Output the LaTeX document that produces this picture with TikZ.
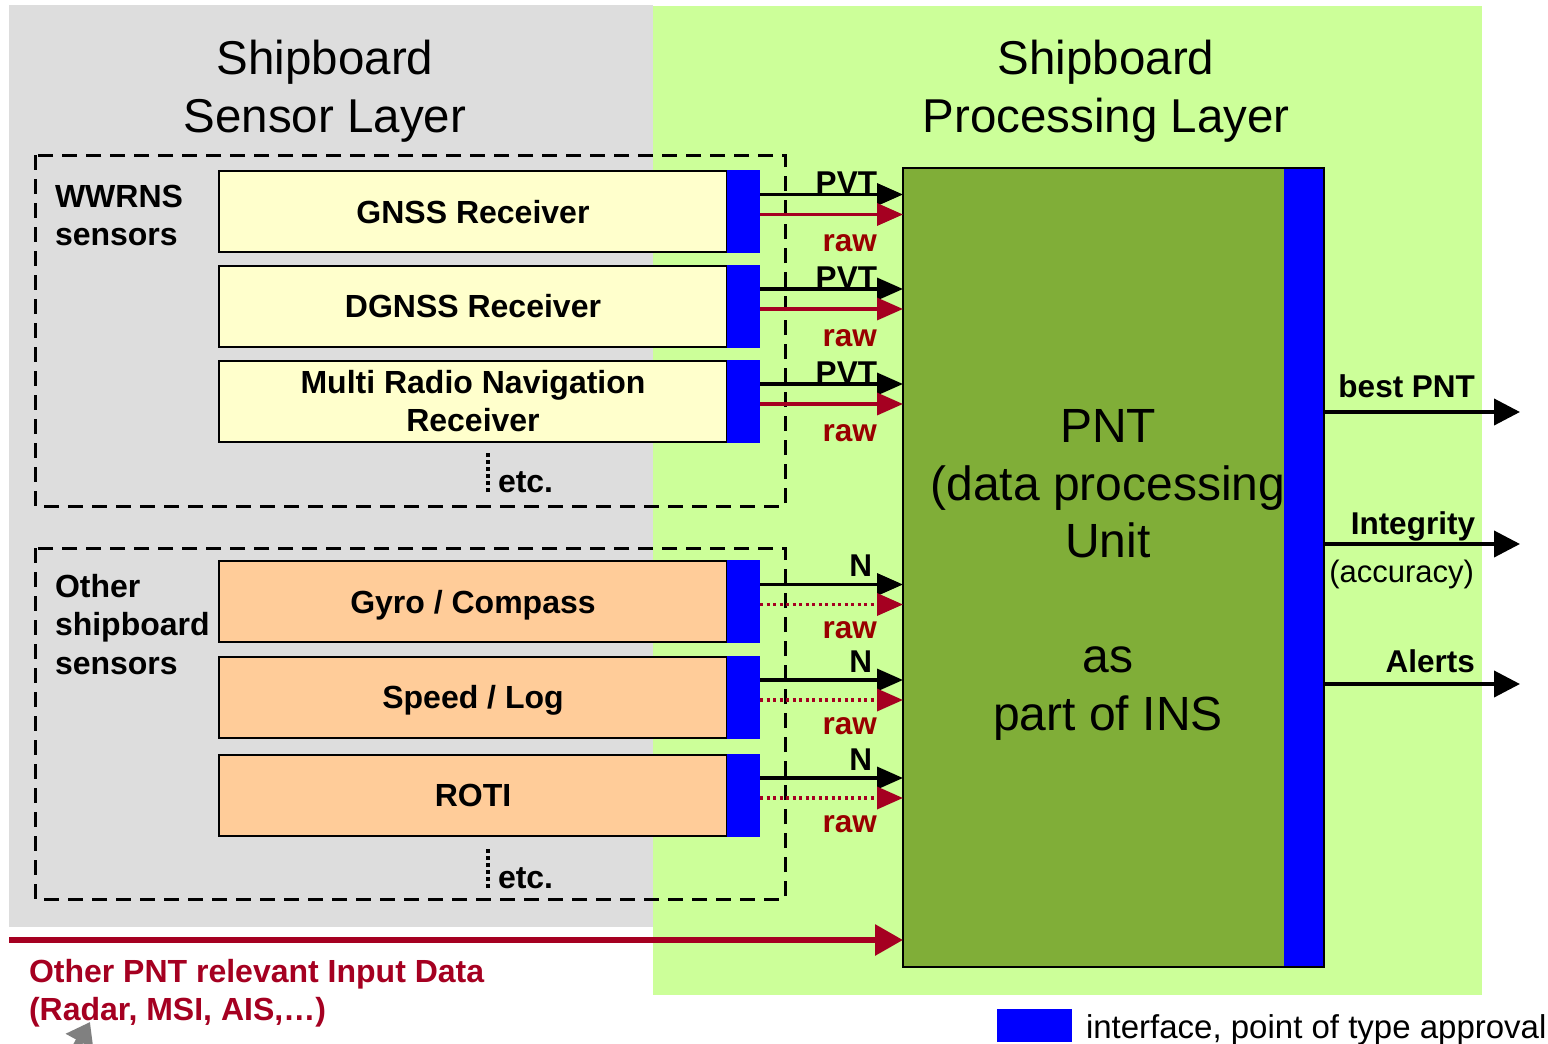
\documentclass[tikz,border=0pt]{standalone}
\usepackage{fontspec}
\setmainfont{Liberation Sans}
\usetikzlibrary{arrows.meta,positioning}
\definecolor{sensorgrey}{HTML}{DDDDDD}
\definecolor{procgreen}{HTML}{CCFF99}
\definecolor{pntgreen}{HTML}{80AE38}
\definecolor{wwcream}{HTML}{FFFFCC}
\definecolor{othorange}{HTML}{FFCC99}
\definecolor{rawred}{HTML}{A50021}
\definecolor{rawtext}{HTML}{990000}
\definecolor{ifblue}{HTML}{0000FF}
\begin{document}
\begin{tikzpicture}[x=1pt, y=-1pt,
    every node/.style={inner sep=0pt, outer sep=0pt},
    layertitle/.style={align=center, font=\fontsize{47.5}{57.5}\selectfont},
    groupname/.style={anchor=north west, align=left, font=\fontsize{32}{38.5}\selectfont\bfseries},
    sensorbox/.style={draw, line width=2pt, minimum width=508pt, minimum height=81pt, text depth=0pt, align=center, font=\fontsize{32}{38}\selectfont\bfseries},
    wwrns/.style={sensorbox, fill=wwcream},
    othersens/.style={sensorbox, fill=othorange},
    iface/.style={fill=ifblue, minimum width=33pt, minimum height=83pt},
    groupframe/.style={line width=3pt, dash pattern=on 15pt off 9pt},
    flowlabel/.style={anchor=base east, font=\fontsize{31.5}{38}\selectfont\bfseries},
    rawlabel/.style={flowlabel, text=rawtext},
    pvtline/.style={line width=3.5pt, -{Triangle[length=26pt, width=22pt]}},
    rawline/.style={pvtline, rawred},
    rawdots/.style={rawline, dash pattern=on 3pt off 3.5pt},
    outline/.style={line width=4pt, -{Triangle[length=26pt, width=26pt]}},
    etcdots/.style={line width=3.5pt, dash pattern=on 4pt off 3pt},
  ]
  \useasboundingbox[fill=white] (0,0) rectangle (1548,1044);
  % layers
  \fill[sensorgrey] (9,5) rectangle (653,927);
  \fill[procgreen] (653,6) rectangle (1482,995);
  \node[layertitle] (sensortitle) at (325,91) {Shipboard\\Sensor Layer};
  \node[layertitle] (proctitle) at (1106,91) {Shipboard\\Processing Layer};

  % sensor groups
  \draw[groupframe] (35,155) rectangle (785,506);
  \draw[groupframe] (35,548) rectangle (785,899);
  \node[groupname] (wwrnsname) at (55,185) {WWRNS\\sensors};
  \node[groupname] (othername) at (55,574) {Other\\shipboard\\sensors};

  \node[wwrns] (gnss) at (473,211.5) {GNSS Receiver};
  \node[wwrns] (dgnss) at (473,306) {DGNSS Receiver};
  \node[wwrns] (mrnr) at (473,401) {Multi Radio Navigation\\Receiver};
  \node[othersens] (gyro) at (473,601.5) {Gyro / Compass};
  \node[othersens] (speed) at (473,697) {Speed / Log};
  \node[othersens] (roti) at (473,795) {ROTI};
  \foreach \s in {gnss,dgnss,mrnr,gyro,speed,roti}
    \node[iface, right=0pt of \s] (\s-if) {};

  \node[anchor=base west, font=\fontsize{32}{38}\selectfont\bfseries] (etc1) at (498,492) {etc.};
  \draw[etcdots] ([xshift=-10pt]etc1.base west) -- ++(0,-40);
  \node[anchor=base west, font=\fontsize{32}{38}\selectfont\bfseries] (etc2) at (498,888) {etc.};
  \draw[etcdots] ([xshift=-10pt]etc2.base west) -- ++(0,-40);

  % processing unit
  \node[draw, line width=2.5pt, fill=pntgreen, minimum width=421pt, minimum height=799pt] (pnt) at (1113.5,567.5) {};
  \node[fill=ifblue, anchor=east, minimum width=40pt, minimum height=799pt] (pnt-if) at (pnt.east) {};
  \draw[line width=2.5pt] (pnt.north west) rectangle (pnt.south east);
  \node[align=center, font=\fontsize{48}{57.5}\selectfont] (pnttext) at (1108,575)
    {PNT\\(data processing\\Unit\\[57.5pt]as\\part of INS};

  % sensor data flows
  \foreach \s in {gnss,dgnss,mrnr}{
    \coordinate (\s-pvt) at ([yshift=17pt]\s-if.east);
    \coordinate (\s-raw) at ([yshift=-3pt]\s-if.east);
    \draw[pvtline] (\s-pvt) -- (\s-pvt -| pnt.west) node[flowlabel, xshift=-26pt, yshift=1pt] {PVT};
    \draw[rawline] (\s-raw) -- (\s-raw -| pnt.west) node[rawlabel, xshift=-26pt, yshift=-37pt] {raw};
  }
  \foreach \s in {gyro,speed,roti}{
    \coordinate (\s-n) at ([yshift=17pt]\s-if.east);
    \coordinate (\s-raw) at ([yshift=-3pt]\s-if.east);
    \draw[pvtline] (\s-n) -- (\s-n -| pnt.west) node[flowlabel, xshift=-31pt, yshift=8pt] {N};
    \draw[rawdots] (\s-raw) -- (\s-raw -| pnt.west) node[rawlabel, xshift=-26pt, yshift=-34pt] {raw};
  }

  % outputs
  \coordinate (bestend) at (1520,412);
  \coordinate (integend) at (1520,544);
  \coordinate (alertend) at (1520,684);
  \draw[outline] (bestend -| pnt.east) -- (bestend) node[flowlabel, xshift=-45pt, yshift=15pt] {best PNT};
  \draw[outline] (integend -| pnt.east) -- (integend) node[flowlabel, xshift=-45pt, yshift=10pt] {Integrity}
    node[anchor=base east, font=\fontsize{31}{38}\selectfont, xshift=-46pt, yshift=-38pt] {(accuracy)};
  \draw[outline] (alertend -| pnt.east) -- (alertend) node[flowlabel, xshift=-45pt, yshift=12pt] {Alerts};

  % other input
  \coordinate (otherin) at (9,940);
  \draw[rawline, line width=6pt, -{Triangle[length=28pt, width=30pt]}] (otherin) -- (otherin -| pnt.west);
  \node[anchor=north west, align=left, text=rawred, font=\fontsize{32}{38}\selectfont\bfseries] (othertext) at (29,959)
    {Other PNT relevant Input Data\\(Radar, MSI, AIS,…)};
  \coordinate (pointer) at (90,1022);
  \draw[line width=8pt, gray, -{Triangle[length=22pt, width=30pt]}] ([shift={(-30,55)}]pointer) -- (pointer);

  % legend
  \node[fill=ifblue, minimum width=75pt, minimum height=33pt] (legend-if) at (1034.5,1025.5) {};
  \node[right=14pt of legend-if, yshift=-4pt, font=\fontsize{33}{38}\selectfont] (legendtext) {interface, point of type approval};
\end{tikzpicture}
\end{document}
